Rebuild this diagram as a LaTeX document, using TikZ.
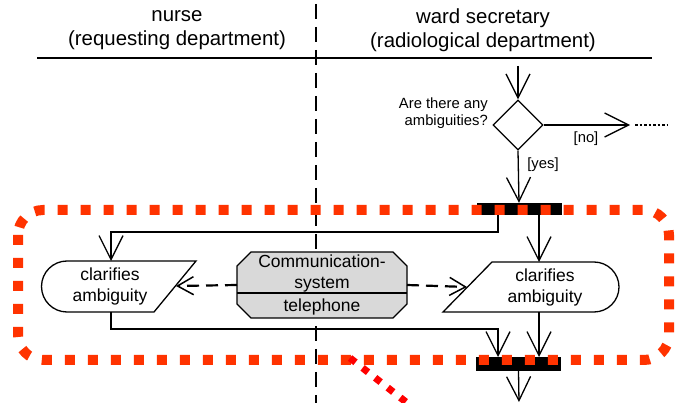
\documentclass[tikz,border=0pt]{standalone}
\usepackage{fontspec}
\setmainfont{Liberation Sans}
\usetikzlibrary{arrows.meta,shapes.geometric}
\definecolor{dotred}{HTML}{FF3300}
\definecolor{diagred}{HTML}{FF0000}
\definecolor{boxgray}{HTML}{D9D9D9}
\tikzset{
  ln/.style={line width=1.3pt, black},
  bigarrow/.style={ln, -{Straight Barb[length=24pt,width=24pt,line width=1.3pt]}},
  dasharrow/.style={line width=2.2pt, dash pattern=on 12pt off 7pt, -{Straight Barb[length=16pt,width=18pt,line width=1.5pt]}},
  hdr/.style={align=center, inner sep=0pt, font=\fontsize{20.4}{24}\selectfont},
  small/.style={inner sep=0pt, font=\fontsize{14.8}{17}\selectfont},
  acttext/.style={align=center, inner sep=0pt, font=\fontsize{17.5}{21}\selectfont},
  barnode/.style={fill=black, draw=none, minimum width=85pt, inner sep=0pt},
}
\begin{document}
\begin{tikzpicture}[x=1pt,y=-1pt]
\useasboundingbox (0,0) rectangle (675,403);
\clip (0,0) rectangle (675,403);
\fill[white] (0,0) rectangle (675,403);

% headers and lanes
\node[hdr] (nurse) at (177,30) {nurse\\(requesting department)};
\node[hdr] (ward) at (483,30) {ward secretary\\(radiological department)};
\coordinate (hl) at (37,58);
\coordinate (hr) at (652,58);
\draw[ln] (hl) -- (hr);
\coordinate (vt) at (316,4);
\coordinate (vb) at (316,410);
\draw[line width=2.6pt, dash pattern=on 15pt off 8pt] (vt) -- (vb);

% decision
\node[diamond, draw, ln, minimum width=50pt, minimum height=50pt, inner sep=0pt, aspect=1] (dec) at (518,125) {};
\coordinate (in) at (518,66);
\draw[bigarrow] (in) -- (dec.north);
\node[small, anchor=east, align=right] (q) at (488,113) {Are there any\\ambiguities?};
\coordinate (noend) at (630,125);
\draw[bigarrow] (dec.east) -- (noend);
\coordinate (dots1) at (635,125);
\coordinate (dots2) at (668,125);
\draw[line width=2pt, dash pattern=on 2.5pt off 2pt] (dots1) -- (dots2);
\node[small] (no) at (586,139) {[no]};
\node[small] (yes) at (543,165) {[yes]};

% fork bar
\node[barnode, minimum height=12pt] (fork) at (519,209) {};
\draw[bigarrow] (dec.south) -- (fork.north);

% left action
\coordinate (la) at (111,261);
\draw[ln] (67,261) -- (196,261) -- (154,312) -- (67,312) arc[start angle=90, end angle=270, radius=25.5] -- cycle;
\node[acttext] (lact) at (110,286) {clarifies\\ambiguity};
\coordinate (lslant) at (176,286);
\coordinate (lbot) at (111,312);

% right action
\draw[ln] (492,262) -- (594,262) arc[start angle=-90, end angle=90, radius=25] -- (443,312) -- cycle;
\node[acttext] (ract) at (545,287) {clarifies\\ambiguity};
\coordinate (ra) at (539,262);
\coordinate (rslant) at (467,287);
\coordinate (rbot) at (539,312);

% fork connections
\coordinate (f1) at (498,215);
\coordinate (f2) at (539,215);
\draw[ln] (f1) -- (498,232) -| (111,245);
\draw[bigarrow] (111,240) -- (la);
\draw[bigarrow] (f2) -- (ra);

% communication system
\draw[ln, fill=boxgray] (251,252) -- (393,252) -- (407,266) -- (407,304) -- (393,318) -- (251,318) -- (237,304) -- (237,266) -- cycle;
\draw[line width=2.6pt] (237,293) -- (407,293);
\node[acttext] (comm) at (322,273) {Communication-\\system};
\node[acttext] (tel) at (322,307) {telephone};
\coordinate (cl) at (237,285);
\coordinate (cr) at (407,285);
\draw[dasharrow] (cl) -- (lslant);
\draw[dasharrow] (cr) -- (rslant);

% join bar
\node[barnode, minimum height=14pt] (join) at (518.5,364) {};
\coordinate (j1) at (498,357);
\coordinate (j2) at (539,357);
\draw[ln] (lbot) -- (111,329) -| (498,345);
\draw[bigarrow] (498,335) -- (j1);
\draw[bigarrow] (rbot) -- (j2);
\coordinate (out) at (519,402);
\draw[bigarrow] (join.south) -- (out);

% red dotted region
\draw[dotred, line width=10pt, dash pattern=on 10pt off 13pt, rounded corners=25pt] (18,210) rectangle (669,360);
\coordinate (d1) at (350,358);
\coordinate (d2) at (425,417);
\draw[diagred, line width=7pt, dash pattern=on 7pt off 9pt] (d1) -- (d2);
\end{tikzpicture}
\end{document}
